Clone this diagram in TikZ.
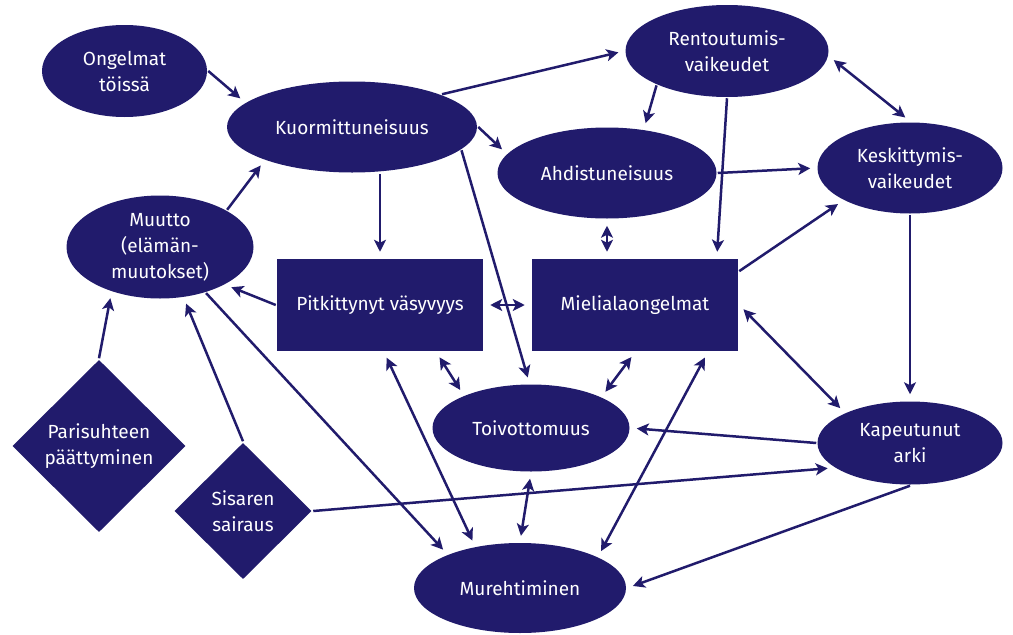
\documentclass[tikz,border=0pt]{standalone}
\usepackage{fontspec}
\setmainfont{Fira Sans}
\usetikzlibrary{shapes.geometric, arrows.meta}
\definecolor{navy}{RGB}{33,27,108}

\begin{document}
\begin{tikzpicture}
	[x=1pt, y=-1pt, line width=2.5pt, navy,
	 >={Stealth[length=12pt,width=12pt,inset=3pt]}, shorten >=6pt,
	 blob/.style={ellipse, fill=navy, text=white, inner sep=0pt, align=center,
	   font=\fontsize{19}{26}\selectfont},
	 box/.style={rectangle, fill=navy, text=white, inner sep=0pt, align=center,
	   minimum width=206pt, minimum height=92pt, font=\fontsize{19}{26}\selectfont},
	 cause/.style={diamond, fill=navy, text=white, inner sep=0pt, align=center,
	   font=\fontsize{19}{26}\selectfont}]
   \path[fill=white] (0,0) rectangle (1013,635);
   \useasboundingbox (0,0) rectangle (1013,635);
   \node[blob, minimum width=165pt, minimum height=92pt] (ong) at (124.5,71) {Ongelmat\\töissä};
   \node[blob, minimum width=250pt, minimum height=91pt] (kuorm) at (352,127) {Kuormittuneisuus};
   \node[blob, minimum width=187pt, minimum height=103pt] (muutto) at (160,247) {Muutto\\(elämän-\\muutokset)};
   \node[box] (pitk) at (380,305) {Pitkittynyt väsyvyys};
   \node[box] (miel) at (635,305) {Mielialaongelmat};
   \node[blob, minimum width=203pt, minimum height=92pt] (rento) at (727,51) {Rentoutumis-\\vaikeudet};
   \node[blob, minimum width=219pt, minimum height=91pt] (ahd) at (607,173) {Ahdistuneisuus};
   \node[blob, minimum width=185pt, minimum height=91pt] (kesk) at (910,168) {Keskittymis-\\vaikeudet};
   \node[blob, minimum width=197pt, minimum height=87pt] (toivo) at (531,428) {Toivottomuus};
   \node[blob, minimum width=185pt, minimum height=83pt] (kap) at (910,443) {Kapeutunut\\arki};
   \node[blob, minimum width=212pt, minimum height=90pt] (mure) at (520,588) {Murehtiminen};
   \node[cause, minimum width=174pt, minimum height=173pt] (pari) at (99,446) {Parisuhteen\\päättyminen};
   \node[cause, minimum width=138pt, minimum height=137pt] (sis) at (243,511) {Sisaren\\sairaus};
    % one-way links
    \path[->]
    (ong.0) edge (kuorm.167)
    (muutto.29) edge (kuorm.201)
    (muutto.-45) edge (mure.155)
    (pitk.north |- kuorm.south) edge (pitk.north)
    (kuorm.20) edge (rento.west)
    (kuorm.east) edge (ahd.169)
    (kuorm.-12) edge (toivo.92)
    (pitk.west) edge (muutto.-30)
    (rento.206) edge (ahd.50)
    (rento.south) edge (miel.30)
    (ahd.east) edge (kesk.west)
    (miel.18) edge (kesk.206)
    (kesk.south) edge (kap.north)
    (kap.west) edge (toivo.east)
    (kap.south) edge (mure.east)
    (pari.north) edge (muutto.223)
    (sis.north) edge (muutto.-65)
    (sis.east) edge (kap.198);
    % two-way links
    \path[<->, shorten <=6pt]
    (rento.-3) edge (kesk.north)
    (ahd.south) edge (ahd.south |- miel.north)
    (pitk.east) edge (miel.west)
    (miel.east) edge (kap.155)
    (miel.south) edge (toivo.24)
    (pitk.-40) edge (toivo.154)
    (pitk.-85) edge (mure.137)
    (miel.-33) edge (mure.22)
    (toivo.south) edge (mure.north);
\end{tikzpicture}
\end{document}
